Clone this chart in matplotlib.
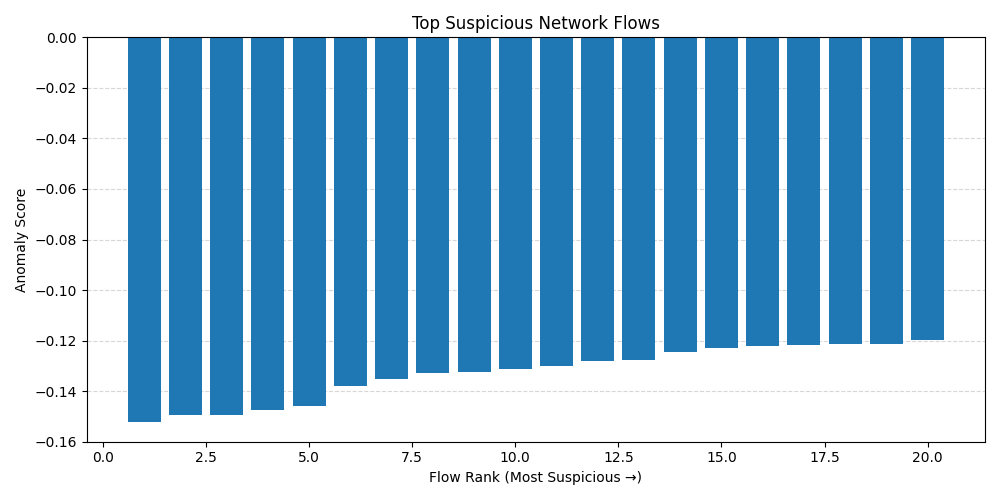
import numpy as np
import matplotlib
matplotlib.use('Agg')
import matplotlib.pyplot as plt

ranks = list(range(1, 21))
scores = [-0.1522, -0.1494, -0.1494, -0.1474, -0.1458,
          -0.1379, -0.1351, -0.1327, -0.1324, -0.1312,
          -0.1300, -0.1282, -0.1278, -0.1246, -0.1230,
          -0.1222, -0.1218, -0.1214, -0.1214, -0.1199]

fig, ax = plt.subplots(figsize=(10, 5), dpi=100)
ax.bar(ranks, scores, color='#1f77b4')
ax.set_title('Top Suspicious Network Flows')
ax.set_xlabel('Flow Rank (Most Suspicious \u2192)')
ax.set_ylabel('Anomaly Score')
ax.set_ylim(-0.16, 0.0)
ax.grid(axis='y', linestyle='--', alpha=0.5)
ax.set_axisbelow(True)
fig.tight_layout()
fig.savefig('out.png')
